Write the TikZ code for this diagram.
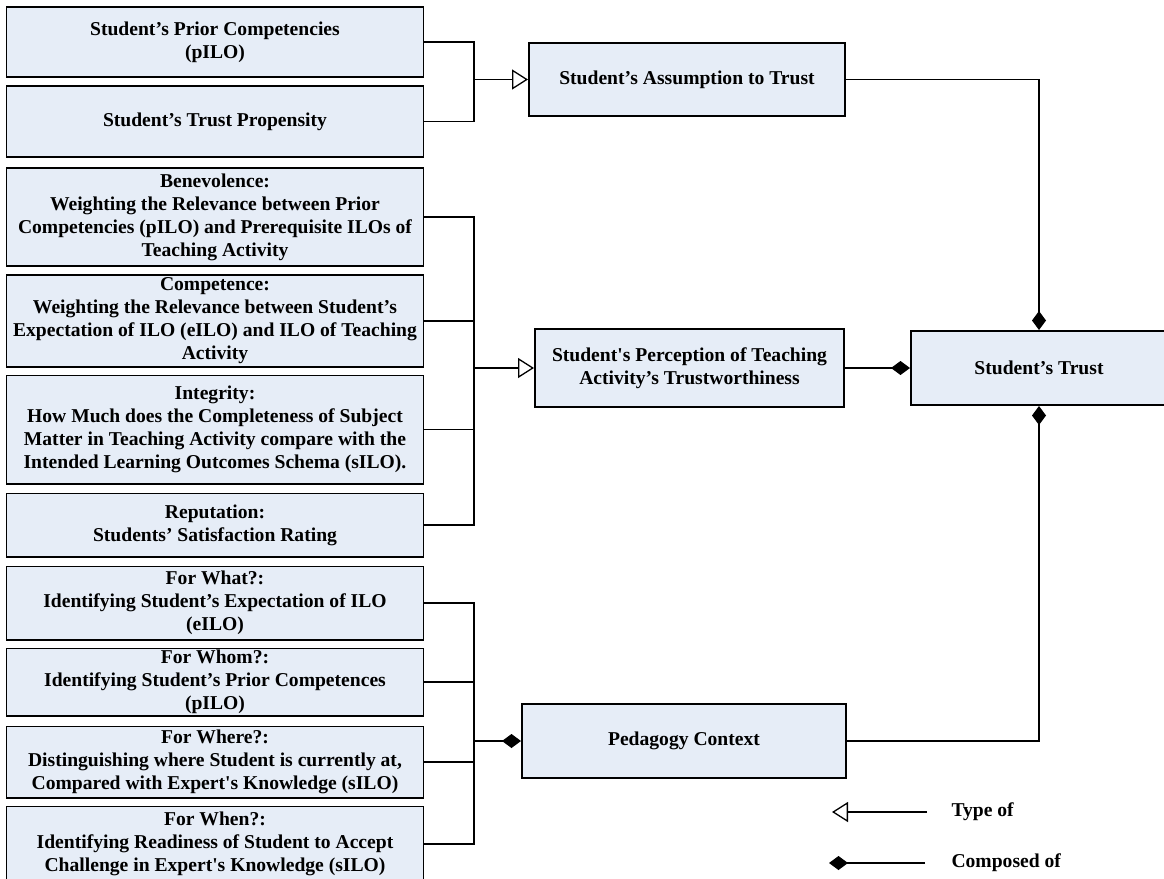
\documentclass[tikz,border=0pt]{standalone}
\usepackage{fontspec}
\setmainfont{Liberation Serif}
\usetikzlibrary{arrows.meta,positioning,calc}
\definecolor{boxfill}{RGB}{230,237,247}
\tikzset{
  box/.style={draw, line width=1.6pt, fill=boxfill, align=center, inner xsep=2pt, inner ysep=1pt, font=\bfseries\fontsize{19.6}{23}\selectfont},
  leftbox/.style={box, minimum width=417pt},
  plainedge/.style={line width=1.5pt},
  typeedge/.style={line width=1.5pt, -{Triangle[open, length=16pt, width=20pt, line width=1.3pt]}},
  partedge/.style={line width=1.5pt, -{Diamond[length=19pt, width=14pt]}},
  legendtext/.style={anchor=west, font=\bfseries\fontsize{19.6}{23}\selectfont}
}

\begin{document}
\begin{tikzpicture}[x=1pt, y=-1pt]
\useasboundingbox (0,0) rectangle (1164,878);

\node[leftbox, minimum height=70.4pt, anchor=north] (prior) at (215,6) {Student’s Prior Competencies\\(pILO)};
\node[leftbox, minimum height=71.4pt, below=7pt of prior] (propensity) {Student’s Trust Propensity};
\node[leftbox, minimum height=98.4pt, below=9pt of propensity] (benev) {Benevolence:\\Weighting the Relevance between Prior\\Competencies (pILO) and Prerequisite ILOs of\\Teaching Activity};
\node[leftbox, minimum height=92pt, below=7pt of benev] (compet) {Competence:\\Weighting the Relevance between Student’s\\Expectation of ILO (eILO) and ILO of Teaching\\Activity};
\node[leftbox, minimum height=108.4pt, below=7pt of compet] (integ) {Integrity:\\How Much does the Completeness of Subject\\Matter in Teaching Activity compare with the\\Intended Learning Outcomes Schema (sILO).};
\node[leftbox, minimum height=63.4pt, below=8pt of integ] (reput) {Reputation:\\Students’ Satisfaction Rating};
\node[leftbox, minimum height=73.4pt, below=8pt of reput] (forwhat) {For What?:\\Identifying Student’s Expectation of ILO\\(eILO)};
\node[leftbox, minimum height=67.4pt, below=7pt of forwhat] (forwhom) {For Whom?:\\Identifying Student’s Prior Competences\\(pILO)};
\node[leftbox, minimum height=71.4pt, below=9pt of forwhom] (forwhere) {For Where?:\\Distinguishing where Student is currently at,\\Compared with Expert\textquotesingle s Knowledge (sILO)};
\node[leftbox, minimum height=75pt, below=7pt of forwhere] (forwhen) {For When?:\\Identifying Readiness of Student to Accept\\Challenge in Expert\textquotesingle s Knowledge (sILO)};

\node[box, minimum width=316.4pt, minimum height=73.4pt] (assum) at (687,79.5) {Student’s Assumption to Trust};
\node[box, minimum width=309.4pt, minimum height=78.4pt] (percep) at (689.5,368) {Student\textquotesingle s Perception of Teaching\\Activity’s Trustworthiness};
\node[box, minimum width=256.4pt, minimum height=74.4pt] (trust) at (1039,368) {Student’s Trust};
\node[box, minimum width=324.4pt, minimum height=74.4pt] (pedag) at (684,741) {Pedagogy Context};

\coordinate (j1) at ($(assum.west)+(-54,0)$);
\coordinate (j2) at ($(percep.west)+(-60,0)$);
\coordinate (j3) at ($(pedag.west)+(-47,0)$);

\draw[plainedge] (prior.east) -| (j1) |- (propensity.east);
\draw[typeedge] (j1) -- (assum.west);

\draw[plainedge] (benev.east) -| (j2) |- (reput.east);
\draw[plainedge] (compet.east) -- (compet.east -| j2);
\draw[plainedge] (integ.east) -- (integ.east -| j2);
\draw[typeedge] (j2) -- (percep.west);

\draw[plainedge] (forwhat.east) -| (j3) |- (forwhen.east);
\draw[plainedge] (forwhom.east) -- (forwhom.east -| j3);
\draw[plainedge] (forwhere.east) -- (forwhere.east -| j3);
\draw[partedge] (j3) -- (pedag.west);

\draw[partedge] (assum.east) -| (trust.north);
\draw[partedge] (percep.east) -- (trust.west);
\draw[partedge] (pedag.east) -| (trust.south);

\coordinate (typetip) at (832,812);
\coordinate (typeend) at (927,812);
\coordinate (parttip) at (829,863);
\coordinate (partend) at (925,863);
\draw[typeedge] (typeend) -- (typetip);
\draw[partedge] (partend) -- (parttip);
\node[legendtext] (typelbl) at (948,812) {Type of};
\node[legendtext] (partlbl) at (948,863) {Composed of};
\end{tikzpicture}
\end{document}
